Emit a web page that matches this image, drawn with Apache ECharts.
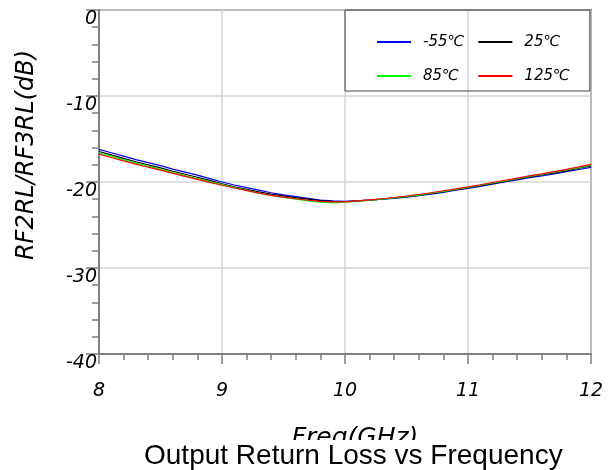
<!DOCTYPE html>
<html>
<head>
<meta charset="utf-8">
<script src="https://cdn.jsdelivr.net/npm/echarts@6/dist/echarts.min.js"></script>
<style>
  html, body { margin: 0; padding: 0; background: #fff; }
  #chart { width: 614px; height: 470px; }
</style>
</head>
<body>
<div id="chart"></div>
<script>
// frequency points (GHz)
var freq = [8.0, 8.1, 8.2, 8.3, 8.4, 8.5, 8.6, 8.7, 8.8, 8.9,
            9.0, 9.1, 9.2, 9.3, 9.4, 9.5, 9.6, 9.7, 9.8, 9.9,
            10.0, 10.1, 10.2, 10.3, 10.4, 10.5, 10.6, 10.7, 10.8, 10.9,
            11.0, 11.1, 11.2, 11.3, 11.4, 11.5, 11.6, 11.7, 11.8, 11.9, 12.0];

// return loss (dB) per temperature
var rlM55 = [-16.2, -16.6, -17.0, -17.4, -17.75, -18.1, -18.5, -18.85, -19.2, -19.6,
             -20.0, -20.35, -20.65, -20.95, -21.25, -21.5, -21.7, -21.9, -22.1, -22.2,
             -22.25, -22.2, -22.1, -22.0, -21.9, -21.75, -21.6, -21.4, -21.2, -20.95,
             -20.75, -20.5, -20.25, -20.0, -19.75, -19.5, -19.3, -19.05, -18.8, -18.55, -18.3];
var rl25 = [-16.45, -16.85, -17.25, -17.65, -18.0, -18.35, -18.75, -19.1, -19.45, -19.82,
            -20.2, -20.55, -20.85, -21.15, -21.4, -21.62, -21.82, -22.0, -22.15, -22.25,
            -22.27, -22.2, -22.1, -21.98, -21.85, -21.7, -21.55, -21.33, -21.12, -20.9,
            -20.67, -20.42, -20.17, -19.92, -19.66, -19.4, -19.18, -18.94, -18.7, -18.4, -18.12];
var rl85 = [-16.6, -17.0, -17.4, -17.8, -18.15, -18.5, -18.9, -19.25, -19.6, -19.95,
            -20.3, -20.65, -20.95, -21.3, -21.55, -21.8, -22.0, -22.2, -22.35, -22.42,
            -22.35, -22.25, -22.12, -22.0, -21.85, -21.68, -21.52, -21.3, -21.08, -20.85,
            -20.62, -20.38, -20.12, -19.86, -19.6, -19.35, -19.12, -18.86, -18.6, -18.33, -18.05];
var rl125 = [-16.75, -17.15, -17.55, -17.93, -18.28, -18.62, -19.0, -19.35, -19.7, -20.05,
             -20.38, -20.7, -21.0, -21.3, -21.55, -21.75, -21.95, -22.12, -22.25, -22.32,
             -22.3, -22.2, -22.08, -21.95, -21.8, -21.63, -21.45, -21.25, -21.02, -20.8,
             -20.57, -20.32, -20.06, -19.8, -19.54, -19.28, -19.05, -18.8, -18.53, -18.25, -17.95];

var seriesNames = ['-55℃', '25℃', '85℃', '125℃'];
var seriesColors = ['#0000ff', '#000000', '#00ff00', '#ff0000'];
var seriesData = [rlM55, rl25, rl85, rl125];

function pairs(ys) {
  return freq.map(function (f, i) { return [f, ys[i]]; });
}

var labelFont = 'DejaVu Sans';

var chart = echarts.init(document.getElementById('chart'));
var option = {
  animation: false,
  backgroundColor: '#fff',
  title: {
    text: 'Output Return Loss vs Frequency',
    left: 141,
    top: 440,
    padding: [2, 3, 6, 3],
    backgroundColor: '#fff',
    textStyle: { fontFamily: 'Liberation Sans', fontSize: 28, fontWeight: 'normal', color: '#000' }
  },
  legend: {
    // -55/85 first column, 25/125 second column
    data: ['-55℃', '85℃', '25℃', '125℃'],
    orient: 'vertical',
    left: 345,
    top: 10,
    height: 60,
    padding: [22, 20, 5, 32],
    itemGap: 14,
    itemWidth: 34,
    itemHeight: 2,
    icon: 'rect',
    borderColor: '#444',
    borderWidth: 1,
    textStyle: {
      fontFamily: labelFont, fontStyle: 'italic', fontSize: 15, color: '#000',
      lineHeight: 20, padding: [0, 0, 0, 7]
    }
  },
  grid: {
    left: 99, right: 23, top: 10, bottom: 116,
    show: true, borderColor: '#707070', borderWidth: 2
  },
  xAxis: {
    type: 'value',
    min: 8, max: 12, interval: 1,
    name: 'Freq(GHz)',
    nameLocation: 'middle',
    nameGap: 72,
    nameTextStyle: { fontFamily: labelFont, fontStyle: 'italic', fontSize: 25, color: '#000', padding: [0, 0, 0, 20] },
    axisLine: { onZero: false, lineStyle: { color: '#808080', width: 2 } },
    axisTick: { inside: false, length: 10, lineStyle: { color: '#808080', width: 1.5 } },
    minorTick: { show: true, splitNumber: 5, length: 6, lineStyle: { color: '#808080', width: 1.5 } },
    axisLabel: { margin: 28, fontFamily: labelFont, fontStyle: 'italic', fontSize: 19, color: '#000' },
    splitLine: { show: true, lineStyle: { color: '#d4d4d4', width: 1.5 } }
  },
  yAxis: {
    type: 'value',
    min: -40, max: 0, interval: 10,
    name: 'RF2RL/RF3RL(dB)',
    nameLocation: 'middle',
    nameGap: 60,
    nameTextStyle: { fontFamily: labelFont, fontStyle: 'italic', fontSize: 24, color: '#000', padding: [0, 0, 0, 54] },
    axisLine: { onZero: false, lineStyle: { color: '#808080', width: 2 } },
    axisTick: { inside: false, length: 13, lineStyle: { color: '#808080', width: 1.5 } },
    minorTick: { show: true, splitNumber: 5, length: 7, lineStyle: { color: '#808080', width: 1.5 } },
    axisLabel: { margin: 2, verticalAlign: 'top', fontFamily: labelFont, fontStyle: 'italic', fontSize: 19, color: '#000' },
    splitLine: { show: true, lineStyle: { color: '#d4d4d4', width: 1.5 } }
  },
  series: seriesNames.map(function (name, i) {
    return {
      name: name,
      type: 'line',
      symbol: 'none',
      color: seriesColors[i],
      lineStyle: { color: seriesColors[i], width: 1.2 },
      data: pairs(seriesData[i])
    };
  })
};
chart.setOption(option);
</script>
</body>
</html>
